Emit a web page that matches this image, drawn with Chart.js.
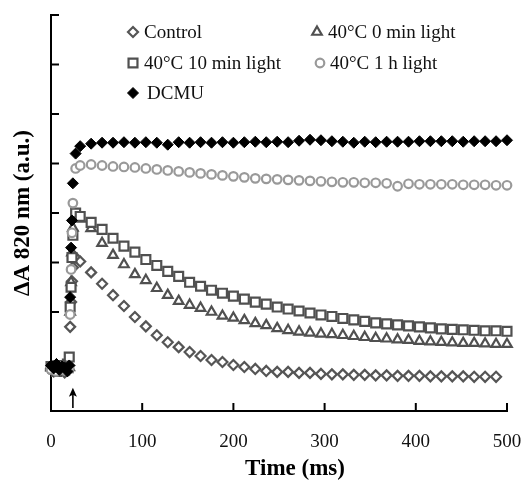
<!DOCTYPE html>
<html>
<head>
<meta charset="utf-8">
<script src="https://cdn.jsdelivr.net/npm/chart.js@4.4.1/dist/chart.umd.min.js"></script>
<style>
html,body{margin:0;padding:0;background:#fff;}
</style>
</head>
<body>
<canvas id="c" width="525" height="493"></canvas>
<script>
// time points (ms): baseline, flash rise, then every 12 ms
let times = [0,3,6,9,12,15,18,20, 21,22,23,24, 27,
  32,44,56,68,80,92,104,116,128,140,152,164,176,188,200,212,224,236,248,260,272,284,296,
  308,320,332,344,356,368,380,392,404,416,428,440,452,464,476,488,500];

let control = [0.85,0.80,0.90,0.82,0.88,0.78,0.86,0.92, 1.70,2.20,2.62,2.90, 3.10,
  3.02,2.80,2.57,2.34,2.12,1.90,1.71,1.53,1.39,1.29,1.19,1.11,1.03,0.99,0.93,0.89,0.85,0.81,0.79,0.79,0.77,0.77,0.75,
  0.74,0.74,0.73,0.73,0.72,0.72,0.71,0.71,0.71,0.70,0.70,0.70,0.70,0.69,0.69,0.69];

let light0min = [0.88,0.83,0.92,0.80,0.86,0.90,0.84,0.88, 2.00,2.60,3.20,3.70, 3.95,
  3.88,3.69,3.39,3.15,2.96,2.76,2.64,2.48,2.34,2.22,2.14,2.08,2.00,1.92,1.88,1.83,1.77,1.73,1.67,1.63,1.60,1.58,1.56,
  1.55,1.53,1.51,1.49,1.47,1.46,1.44,1.43,1.41,1.40,1.39,1.38,1.37,1.37,1.36,1.35,1.35];

let light10min = [0.90,0.85,0.80,0.92,0.87,0.83,0.95,1.09, 2.10,2.50,3.10,3.55, 4.00,
  3.93,3.81,3.67,3.49,3.33,3.21,3.06,2.94,2.82,2.72,2.60,2.52,2.44,2.38,2.32,2.26,2.20,2.16,2.10,2.06,2.02,1.98,1.94,
  1.91,1.87,1.84,1.81,1.78,1.76,1.74,1.72,1.70,1.68,1.66,1.65,1.64,1.63,1.62,1.62,1.61];

let light1h = [0.84,0.88,0.80,0.90,0.85,0.82,0.89,0.86, 1.95,2.86,3.60,4.20, 4.90,
  4.96,4.98,4.96,4.94,4.93,4.92,4.90,4.88,4.86,4.84,4.82,4.80,4.78,4.76,4.74,4.72,4.70,4.69,4.68,4.67,4.66,4.65,4.64,
  4.63,4.62,4.62,4.61,4.61,4.60,4.54,4.59,4.58,4.58,4.58,4.58,4.57,4.57,4.57,4.56,4.56];

let dcmu = [0.92,0.86,0.95,0.83,0.90,0.88,0.80,0.92, 2.30,3.30,3.85,4.60, 5.20,
  5.35,5.40,5.42,5.42,5.43,5.42,5.43,5.42,5.38,5.43,5.42,5.43,5.42,5.43,5.42,5.43,5.44,5.43,5.44,5.43,5.46,5.48,5.47,
  5.45,5.44,5.42,5.44,5.43,5.44,5.44,5.44,5.45,5.45,5.45,5.45,5.44,5.45,5.45,5.45,5.47];

let seriesNames = ["Control","40°C 0 min light","40°C 10 min light","40°C 1 h light","DCMU"];
let xTicks = [0,100,200,300,400,500];
let yTickCount = 8;
let flashTime = 24;

function toPoints(vals){
  return vals.map((v,i)=>({x:times[i], y:v}));
}

let font = '"Liberation Serif", "Times New Roman", serif';

// ticks inside, arrow, x title and legend
const extras = {
  id:'extras',
  afterDraw(chart){
    let ctx = chart.ctx;
    let xs = chart.scales.x, ys = chart.scales.y;
    ctx.save();
    ctx.strokeStyle = '#000';
    ctx.lineWidth = 2;
    xTicks.forEach(v=>{
      let px = xs.getPixelForValue(v);
      ctx.beginPath(); ctx.moveTo(px, ys.bottom); ctx.lineTo(px, ys.bottom-8); ctx.stroke();
    });
    for(let v=1; v<=yTickCount; v++){
      let py = ys.getPixelForValue(v);
      ctx.beginPath(); ctx.moveTo(xs.left, py); ctx.lineTo(xs.left+8, py); ctx.stroke();
    }

    // flash arrow
    let ax = xs.getPixelForValue(flashTime);
    let y0 = ys.getPixelForValue(0.06), y1 = ys.getPixelForValue(0.47);
    ctx.lineWidth = 1.6;
    ctx.beginPath(); ctx.moveTo(ax, y0); ctx.lineTo(ax, y1+5); ctx.stroke();
    ctx.fillStyle = '#000';
    ctx.beginPath(); ctx.moveTo(ax, y1); ctx.lineTo(ax-4, y1+9); ctx.lineTo(ax, y1+7); ctx.lineTo(ax+4, y1+9); ctx.closePath(); ctx.fill();

    // x axis title
    ctx.font = 'bold 23px ' + font;
    ctx.textAlign = 'center';
    ctx.textBaseline = 'middle';
    ctx.fillText('Time (ms)', 295, 469);

    // legend
    let slots = [[133,144,32],[317,328,32],[133,144,63],[320,330,63],[133,147,93]];
    ctx.font = '19px ' + font;
    ctx.textAlign = 'left';
    chart.data.datasets.forEach((ds,i)=>{
      let s = slots[i];
      ctx.fillStyle = ds.backgroundColor;
      ctx.strokeStyle = ds.borderColor;
      ctx.lineWidth = ds.borderWidth;
      Chart.helpers.drawPoint(ctx, {pointStyle:ds.pointStyle, radius:ds.pointRadius, rotation:0, borderWidth:ds.borderWidth}, s[0], s[2]);
      ctx.fillStyle = '#111';
      ctx.fillText(ds.label, s[1], s[2]+1);
    });
    ctx.restore();
  }
};

new Chart(document.getElementById('c'), {
  type:'scatter',
  data:{
    datasets:[
      {label:seriesNames[0], data:toPoints(control), pointStyle:'rectRot', pointRadius:5, borderWidth:2.2, borderColor:'#555', backgroundColor:'#fff', order:5, clip:false},
      {label:seriesNames[1], data:toPoints(light0min), pointStyle:'triangle', pointRadius:5.5, borderWidth:2.2, borderColor:'#505050', backgroundColor:'#fff', order:4, clip:false},
      {label:seriesNames[2], data:toPoints(light10min), pointStyle:'rect', pointRadius:6.3, borderWidth:2.2, borderColor:'#505050', backgroundColor:'#fff', order:3, clip:false},
      {label:seriesNames[3], data:toPoints(light1h), pointStyle:'circle', pointRadius:4.3, borderWidth:2.2, borderColor:'#999', backgroundColor:'#fff', order:2, clip:false},
      {label:seriesNames[4], data:toPoints(dcmu), pointStyle:'rectRot', pointRadius:5.5, borderWidth:1, borderColor:'#000', backgroundColor:'#000', order:1, clip:false}
    ]
  },
  options:{
    responsive:false,
    animation:false,
    layout:{padding:{left:0, right:18, top:15, bottom:0}},
    plugins:{legend:{display:false}, tooltip:{enabled:false}},
    scales:{
      x:{
        type:'linear', min:0, max:500,
        afterBuildTicks:(s)=>{ s.ticks = xTicks.map(v=>({value:v})); },
        afterFit:(s)=>{ s.height = 82; s.paddingLeft = 0; s.paddingRight = 0; },
        grid:{display:false, drawTicks:false},
        border:{display:true, color:'#000', width:2},
        ticks:{color:'#111', font:{family:font, size:19}, padding:20, maxRotation:0}
      },
      y:{
        min:0, max:yTickCount,
        afterFit:(s)=>{ s.width = 51; },
        grid:{display:false, drawTicks:false},
        border:{display:true, color:'#000', width:2},
        ticks:{display:false, stepSize:1},
        title:{display:true, text:'ΔA 820 nm (a.u.)', color:'#000', font:{family:font, size:23, weight:'bold'}, padding:{top:9, bottom:0}}
      }
    }
  },
  plugins:[extras]
});
</script>
</body>
</html>
